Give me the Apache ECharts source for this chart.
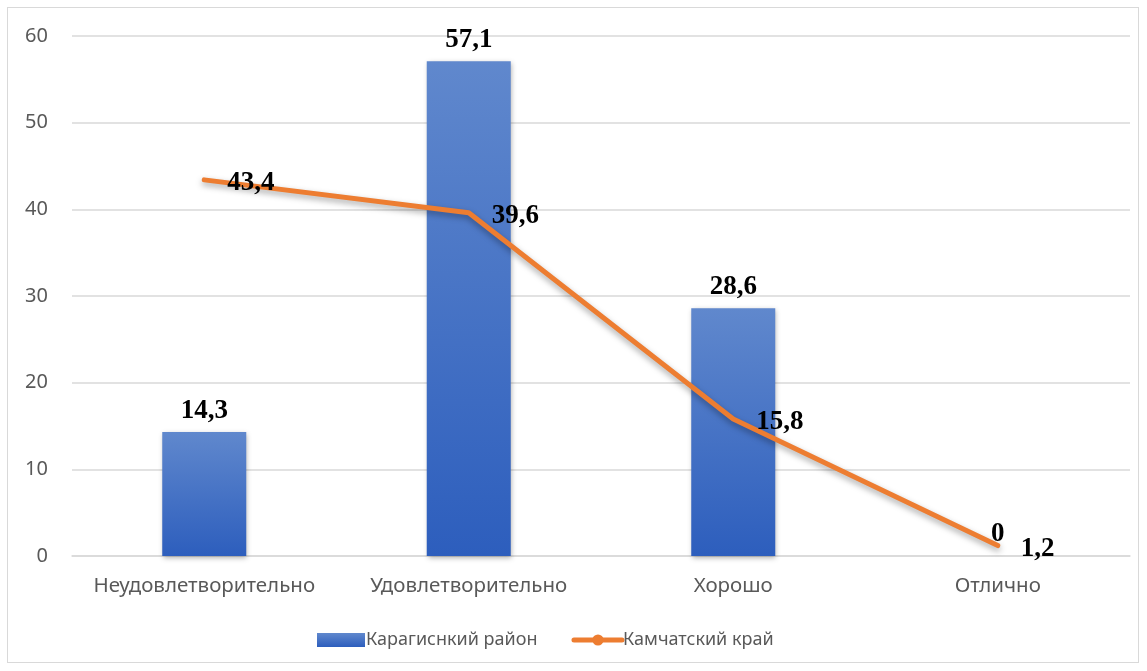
<!DOCTYPE html>
<html><head><meta charset="utf-8">
<script src="https://cdn.jsdelivr.net/npm/echarts@6/dist/echarts.min.js"></script>
<style>html,body{margin:0;padding:0;background:#fff}#c{width:1147px;height:671px}
#frame{position:absolute;left:7px;top:7px;width:1132px;height:656px;border:1.5px solid #d9d9d9;pointer-events:none;box-sizing:border-box}</style>
</head><body><div id="c"></div><div id="frame"></div>
<script>
const categories = ['Неудовлетворительно', 'Удовлетворительно', 'Хорошо', 'Отлично'];
const districtValues = [14.3, 57.1, 28.6, 0];
const regionValues = [43.4, 39.6, 15.8, 1.2];
const seriesNames = ['Карагиснкий район', 'Камчатский край'];
const yTicks = {min: 0, max: 60, interval: 10};

const fmt = p => String(p.value).replace('.', ',');
const labelFont = {fontFamily: 'Liberation Serif', fontWeight: 'bold', fontSize: 27, color: '#000'};
const chart = echarts.init(document.getElementById('c'));
chart.setOption({
  animation: false,
  grid: {left: 72, right: 17, top: 36, bottom: 115},
  legend: {
    bottom: 17, left: 312, itemGap: 34, itemWidth: 48, itemHeight: 14,
    textStyle: {fontFamily: 'Noto Sans', fontSize: 18, color: '#595959', padding: [0,0,0,-4]},
    data: [
      {name: seriesNames[0], icon: 'rect'},
      {name: seriesNames[1], itemStyle: {color: '#ed7d31'}, lineStyle: {width: 5, color: '#ed7d31', cap: 'round'}}
    ]
  },
  xAxis: {
    type: 'category', data: categories,
    axisLine: {lineStyle: {color: '#d9d9d9', width: 1.5}},
    axisTick: {show: false},
    axisLabel: {fontFamily: 'Noto Sans', fontSize: 20.5, color: '#595959', margin: 20, interval: 0}
  },
  yAxis: {
    type: 'value', min: yTicks.min, max: yTicks.max, interval: yTicks.interval,
    axisLine: {show: false}, axisTick: {show: false},
    axisLabel: {fontFamily: 'Noto Sans', fontSize: 20, color: '#595959', margin: 24},
    splitLine: {lineStyle: {color: '#d9d9d9', width: 1.5}}
  },
  series: [
    {
      name: seriesNames[0], type: 'bar', data: districtValues, barWidth: 84,
      itemStyle: {
        color: new echarts.graphic.LinearGradient(0, 0, 0, 1, [
          {offset: 0, color: '#6088cd'}, {offset: 1, color: '#2d5ebd'}
        ]),
        shadowColor: 'rgba(0,0,0,0.3)', shadowBlur: 5, shadowOffsetX: 1, shadowOffsetY: 2
      },
      label: Object.assign({show: true, position: 'top', distance: 8, formatter: fmt}, labelFont)
    },
    {
      name: seriesNames[1], type: 'line', data: regionValues,
      symbol: 'circle', symbolSize: 14, showSymbol: true,
      itemStyle: {color: 'rgba(237,125,49,0)'},
      lineStyle: {color: '#ed7d31', width: 5, cap: 'round', join: 'round',
        shadowColor: 'rgba(0,0,0,0.35)', shadowBlur: 6, shadowOffsetY: 3},
      label: Object.assign({show: true, position: 'right', distance: 16, formatter: fmt, offset: [0, 3]}, labelFont)
    }
  ]
});
</script></body></html>
